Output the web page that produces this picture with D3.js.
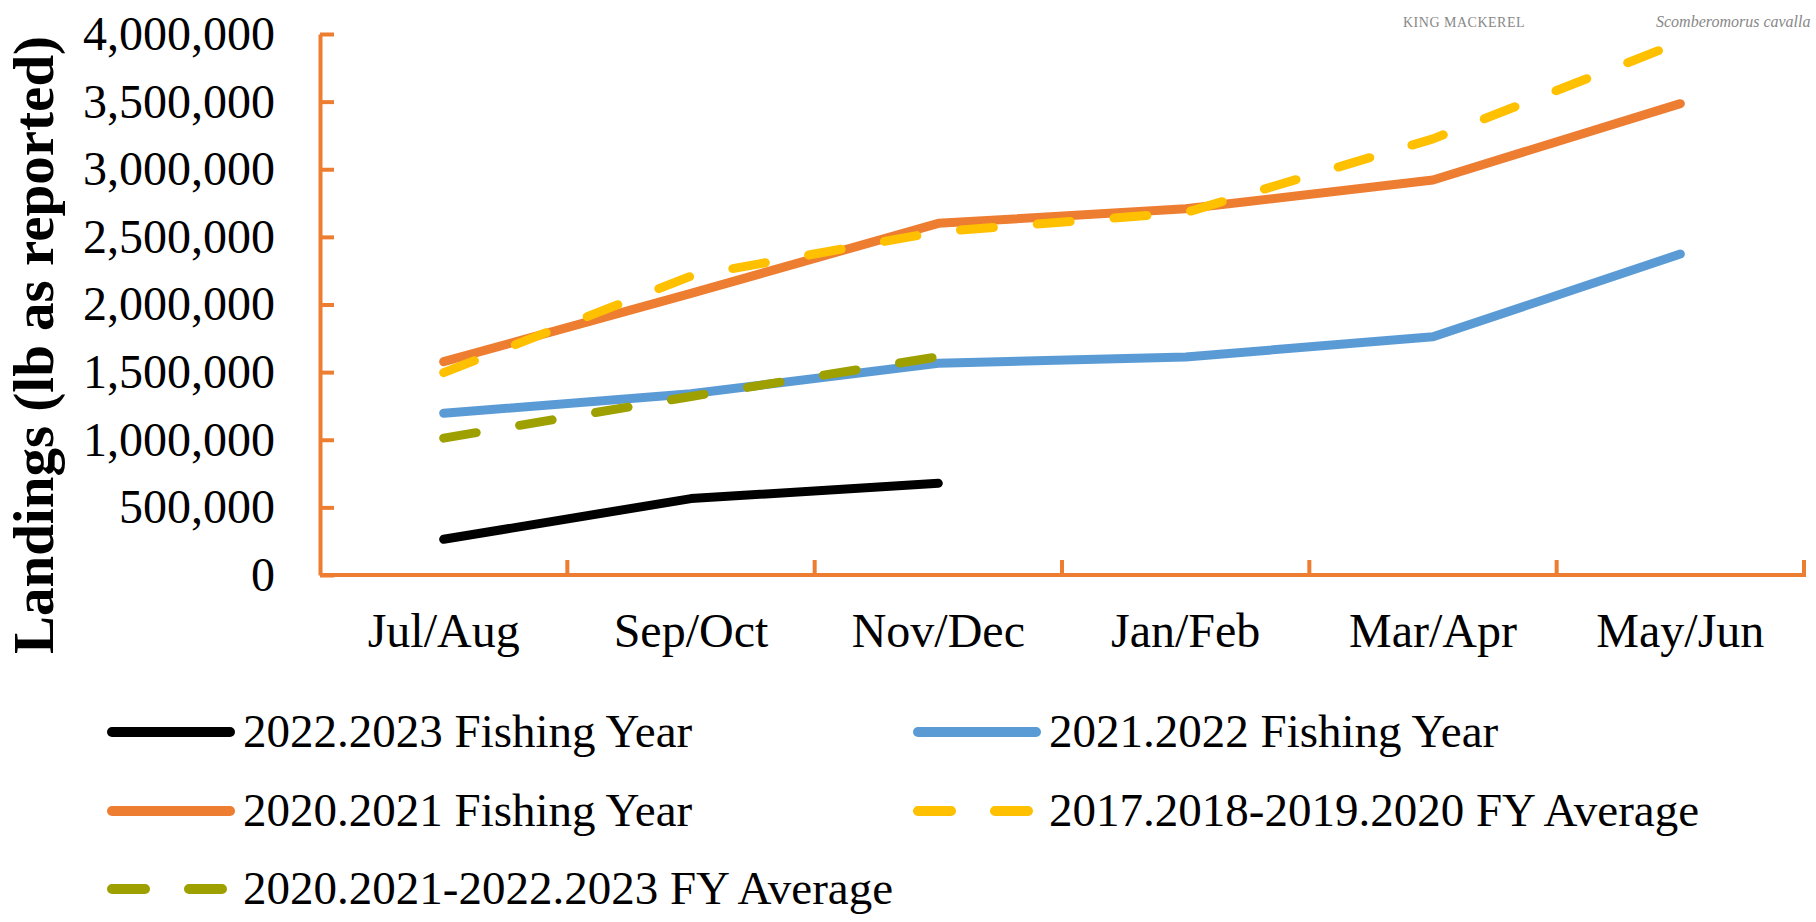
<!DOCTYPE html>
<html>
<head>
<meta charset="utf-8">
<title>King mackerel landings</title>
<script src="https://cdn.jsdelivr.net/npm/d3@7"></script>
<style>
  body { margin: 0; background: #fff; }
  text { font-family: "Liberation Serif", "Times New Roman", serif; }
</style>
</head>
<body>
<div id="chart"></div>
<script>
// data
var periods = ["Jul/Aug", "Sep/Oct", "Nov/Dec", "Jan/Feb", "Mar/Apr", "May/Jun"];
var yTicks = [0, 500000, 1000000, 1500000, 2000000, 2500000, 3000000, 3500000, 4000000];

var fy2022 = [264000, 565000, 678000];
var fy2021 = [1196000, 1340000, 1565000, 1612000, 1761000, 2373000];
var fy2020 = [1577000, 2082000, 2600000, 2708000, 2921000, 3485000];
var avg2017 = [1496000, 2210000, 2538000, 2680000, 3225000, 3940000];
var avg2020 = [1012000, 1320000, 1614000];

var seriesNames = ["2022.2023 Fishing Year", "2021.2022 Fishing Year", "2020.2021 Fishing Year",
                   "2017.2018-2019.2020 FY Average", "2020.2021-2022.2023 FY Average"];
var seriesValues = [fy2022, fy2021, fy2020, avg2017, avg2020];
var seriesColors = ["#000000", "#5b9bd5", "#ed7d31", "#ffc000", "#9ea000"];
var seriesDashed = [false, false, false, true, true];

var width = 1816, height = 922;
var axisColor = "#ed7d31";

var svg = d3.select("#chart").append("svg")
    .attr("width", width)
    .attr("height", height);

svg.append("rect").attr("width", width).attr("height", height).attr("fill", "#fff");

var x = d3.scaleBand().domain(periods).range([320, 1804]);
var y = d3.scaleLinear().domain([0, 4000000]).range([575, 34]);

// y axis, ticks pointing inward
var yAxis = svg.append("g")
    .attr("transform", "translate(320,0)")
    .call(d3.axisLeft(y).tickValues(yTicks).tickFormat(d3.format(","))
        .tickSizeInner(-14).tickSizeOuter(0).tickPadding(45));
yAxis.select(".domain").attr("stroke", axisColor).attr("stroke-width", 4);
yAxis.selectAll(".tick line").attr("stroke", axisColor).attr("stroke-width", 4);
yAxis.selectAll(".tick text")
    .attr("font-size", 48)
    .attr("fill", "#000")
    .style("font-family", "'Liberation Serif', serif");

// x axis: line with ticks at band edges
var edges = periods.map(function(p) { return x(p); }).concat([x.range()[1]]);
var xAxis = svg.append("g");
xAxis.append("line")
    .attr("x1", x.range()[0]).attr("x2", x.range()[1] + 2)
    .attr("y1", y(0)).attr("y2", y(0))
    .attr("stroke", axisColor).attr("stroke-width", 4);
xAxis.selectAll(".xtick").data(edges.slice(1)).enter().append("line")
    .attr("class", "xtick")
    .attr("x1", function(d) { return d; }).attr("x2", function(d) { return d; })
    .attr("y1", y(0)).attr("y2", y(0) - 15)
    .attr("stroke", axisColor).attr("stroke-width", 4);
xAxis.selectAll(".xlabel").data(periods).enter().append("text")
    .attr("class", "xlabel")
    .attr("x", function(d) { return x(d) + x.bandwidth() / 2; })
    .attr("y", 647)
    .attr("text-anchor", "middle")
    .attr("font-size", 48)
    .text(function(d) { return d; });

// y axis title
svg.append("text")
    .attr("transform", "translate(53,345) rotate(-90)")
    .attr("text-anchor", "middle")
    .attr("font-size", 57)
    .attr("font-weight", "bold")
    .text("Landings (lb as reported)");

// watermark texts
svg.append("text")
    .attr("x", 1403).attr("y", 27)
    .attr("font-size", 14)
    .attr("fill", "#888")
    .attr("letter-spacing", 0.5)
    .text("KING MACKEREL");
svg.append("text")
    .attr("x", 1656).attr("y", 27)
    .attr("font-size", 16)
    .attr("font-style", "italic")
    .attr("fill", "#888")
    .text("Scomberomorus cavalla");

// lines
var line = d3.line()
    .x(function(d, i) { return x(periods[i]) + x.bandwidth() / 2; })
    .y(function(d) { return y(d); });

seriesValues.forEach(function(vals, i) {
    svg.append("path")
        .datum(vals)
        .attr("d", line)
        .attr("fill", "none")
        .attr("stroke", seriesColors[i])
        .attr("stroke-width", 9)
        .attr("stroke-linecap", "round")
        .attr("stroke-linejoin", "round")
        .attr("stroke-dasharray", seriesDashed[i] ? "33,44" : null);
});

// legend
var legendCols = [112, 918];
var legendRows = [732, 811, 889];
var legend = svg.selectAll(".legend").data(seriesNames).enter().append("g")
    .attr("class", "legend")
    .attr("transform", function(d, i) {
        return "translate(" + legendCols[i % 2] + "," + legendRows[Math.floor(i / 2)] + ")";
    });
legend.append("line")
    .attr("x1", 0).attr("x2", 118)
    .attr("y1", 0).attr("y2", 0)
    .attr("stroke", function(d, i) { return seriesColors[i]; })
    .attr("stroke-width", 10)
    .attr("stroke-linecap", "round")
    .attr("stroke-dasharray", function(d, i) { return seriesDashed[i] ? "33,44" : null; });
legend.append("text")
    .attr("x", 131)
    .attr("y", 15)
    .attr("font-size", 47)
    .text(function(d) { return d; });
</script>
</body>
</html>
